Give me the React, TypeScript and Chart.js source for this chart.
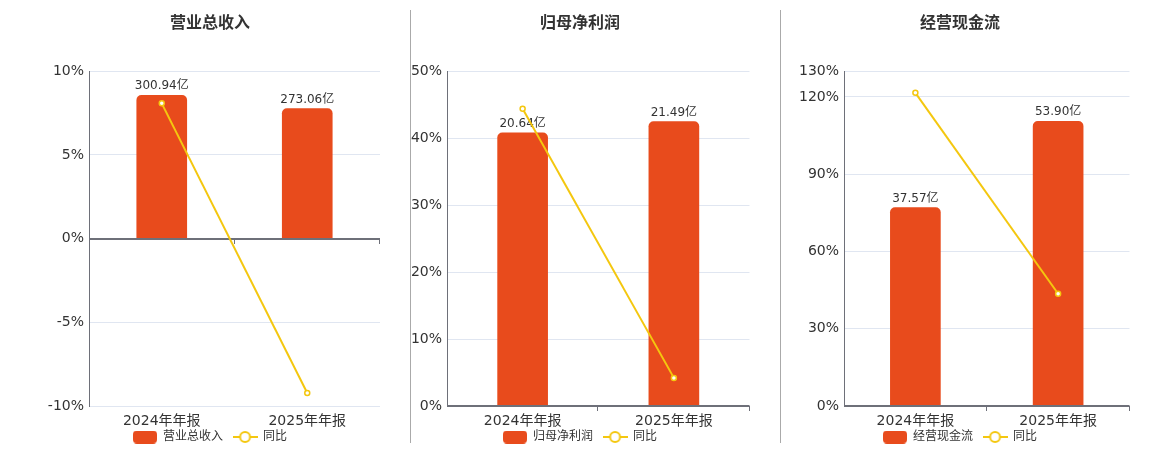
import React, { useEffect, useRef } from 'react';
import { Chart, registerables } from 'chart.js';

Chart.register(...registerables);

const categories = ['2024年年报', '2025年年报'];

const revenueValues = [300.94, 273.06];
const revenueYoy = [8.08, -9.22];
const revenueTicks = [-10, -5, 0, 5, 10];

const profitValues = [20.64, 21.49];
const profitYoy = [44.4, 4.2];
const profitTicks = [0, 10, 20, 30, 40, 50];

const cashValues = [37.57, 53.9];
const cashYoy = [121.6, 43.6];
const cashTicks = [0, 30, 60, 90, 120, 130];

const FONT = '"DejaVu Sans", "Noto Sans CJK SC", sans-serif';
const BAR_COLOR = '#e84b1c';
const LINE_COLOR = '#f4c70f';
const TEXT_COLOR = '#333';
const AXIS_COLOR = '#6e7079';

function makeBarKey() {
  const c = document.createElement('canvas');
  c.width = 24;
  c.height = 13;
  const ctx = c.getContext('2d')!;
  ctx.fillStyle = BAR_COLOR;
  ctx.beginPath();
  ctx.roundRect(0, 0, 24, 13, 4);
  ctx.fill();
  return c;
}

function makeLineKey() {
  const c = document.createElement('canvas');
  c.width = 25;
  c.height = 14;
  const ctx = c.getContext('2d')!;
  ctx.strokeStyle = LINE_COLOR;
  ctx.lineWidth = 2;
  ctx.beginPath();
  ctx.moveTo(0, 7);
  ctx.lineTo(25, 7);
  ctx.stroke();
  ctx.fillStyle = '#fff';
  ctx.beginPath();
  ctx.arc(12.5, 7, 5, 0, Math.PI * 2);
  ctx.fill();
  ctx.stroke();
  return c;
}

interface PanelProps {
  title: string;
  barLabel: string;
  values: number[];
  yoy: number[];
  ticks: number[];
  barRange: [number, number];
  left: number;
  width: number;
  axisLeft: number;
  axisRight: number;
}

const ChartPanel: React.FC<PanelProps> = ({
  title, barLabel, values, yoy, ticks, barRange, left, width, axisLeft, axisRight,
}) => {
  const chartRef = useRef<HTMLCanvasElement>(null);

  useEffect(() => {
    if (!chartRef.current) return;
    const barKey = makeBarKey();
    const lineKey = makeLineKey();

    // zero axis line, category ticks and the value labels on top of the bars
    const decor = {
      id: 'decor',
      afterLayout(chart: any) {
        // pull the legend up closer to the category labels
        const lg = chart.legend;
        if (lg) {
          lg.top -= 9;
          lg.bottom -= 9;
        }
      },
      afterDatasetDraw(chart: any, args: any) {
        if (args.index !== 0) return;
        const { ctx, chartArea, scales } = chart;
        const y0 = Math.round(scales.y.getPixelForValue(0));
        ctx.save();
        ctx.strokeStyle = AXIS_COLOR;
        ctx.lineWidth = 2;
        ctx.beginPath();
        ctx.moveTo(chartArea.left, y0);
        ctx.lineTo(chartArea.right, y0);
        ctx.stroke();
        ctx.lineWidth = 1;
        const n = chart.data.labels.length;
        for (let i = 1; i <= n; i++) {
          const x = Math.round(chartArea.left + (chartArea.width * i) / n) - 0.5;
          ctx.beginPath();
          ctx.moveTo(x, y0);
          ctx.lineTo(x, y0 + 5);
          ctx.stroke();
        }
        ctx.font = `12px ${FONT}`;
        ctx.fillStyle = TEXT_COLOR;
        ctx.textAlign = 'center';
        ctx.textBaseline = 'alphabetic';
        args.meta.data.forEach((bar: any, i: number) => {
          ctx.fillText(values[i].toFixed(2) + '亿', bar.x, bar.y - 6);
        });
        ctx.restore();
      },
    };

    const chart = new Chart(chartRef.current, {
      type: 'bar',
      data: {
        labels: categories,
        datasets: [
          {
            type: 'bar',
            label: barLabel,
            data: values,
            yAxisID: 'y1',
            backgroundColor: BAR_COLOR,
            barThickness: 50,
            borderRadius: { topLeft: 5, topRight: 5, bottomLeft: 0, bottomRight: 0 },
            borderSkipped: false,
            order: 1,
          },
          {
            type: 'line',
            label: '同比',
            data: yoy,
            yAxisID: 'y',
            borderColor: LINE_COLOR,
            borderWidth: 2,
            pointRadius: 2.5,
            pointBorderWidth: 1.5,
            pointBackgroundColor: '#fff',
            pointBorderColor: LINE_COLOR,
            tension: 0,
            order: 0,
          },
        ] as any,
      },
      options: {
        responsive: false,
        animation: false,
        events: [],
        layout: { padding: 0 },
        plugins: {
          title: {
            display: true,
            text: title,
            color: TEXT_COLOR,
            font: { family: FONT, size: 16, weight: 'bold', lineHeight: 1.2 },
            padding: { top: 14, bottom: 38 },
          },
          legend: {
            position: 'bottom',
            labels: {
              usePointStyle: true,
              pointStyleWidth: 24,
              padding: 10,
              color: TEXT_COLOR,
              font: { family: FONT, size: 12 },
              generateLabels: () => [
                { text: barLabel, pointStyle: barKey, datasetIndex: 0, hidden: false, lineWidth: 0, fontColor: TEXT_COLOR },
                { text: '同比', pointStyle: lineKey, datasetIndex: 1, hidden: false, lineWidth: 0, fontColor: TEXT_COLOR },
              ] as any,
            },
          },
          tooltip: { enabled: false },
        },
        scales: {
          x: {
            grid: { display: false, drawTicks: false },
            border: { display: false },
            ticks: { color: TEXT_COLOR, font: { family: FONT, size: 14 }, padding: 7, maxRotation: 0 },
            afterFit: (s: any) => { s.height = 24; },
          },
          y: {
            position: 'left',
            min: ticks[0],
            max: ticks[ticks.length - 1],
            grid: { color: '#e0e6f1', drawTicks: false },
            border: { display: true, color: AXIS_COLOR, width: 1 },
            ticks: {
              padding: 5,
              color: TEXT_COLOR,
              font: { family: FONT, size: 14 },
              callback: (v: any) => v + '%',
            },
            afterBuildTicks: (s: any) => { s.ticks = ticks.map((value) => ({ value })); },
            afterFit: (s: any) => { s.width = axisLeft; },
          },
          y1: {
            position: 'right',
            min: barRange[0],
            max: barRange[1],
            grid: { display: false, drawTicks: false },
            border: { display: false },
            ticks: { display: false },
            afterFit: (s: any) => { s.width = axisRight; },
          },
        },
      } as any,
      plugins: [decor],
    });

    return () => {
      chart.destroy();
    };
  }, []);

  return (
    <canvas
      ref={chartRef}
      width={width}
      height={462}
      style={{ position: 'absolute', left, top: 0 }}
    ></canvas>
  );
};

const divider = (left: number) => (
  <div style={{ position: 'absolute', left, top: 10, width: 1, height: 433, background: '#aaa' }} />
);

export default function App() {
  return (
    <div style={{ position: 'absolute', left: 0, top: 0, width: 1160, height: 450, overflow: 'hidden', background: '#fff' }}>
      <ChartPanel
        title="营业总收入" barLabel="营业总收入" values={revenueValues} yoy={revenueYoy}
        ticks={revenueTicks} barRange={[-351.5, 351.5]}
        left={20} width={380} axisLeft={69} axisRight={20}
      />
      <ChartPanel
        title="归母净利润" barLabel="归母净利润" values={profitValues} yoy={profitYoy}
        ticks={profitTicks} barRange={[0, 25.3]}
        left={405} width={350} axisLeft={42} axisRight={5}
      />
      <ChartPanel
        title="经营现金流" barLabel="经营现金流" values={cashValues} yoy={cashYoy}
        ticks={cashTicks} barRange={[0, 63.4]}
        left={785} width={350} axisLeft={59} axisRight={5}
      />
      {divider(410)}
      {divider(780)}
    </div>
  );
}
